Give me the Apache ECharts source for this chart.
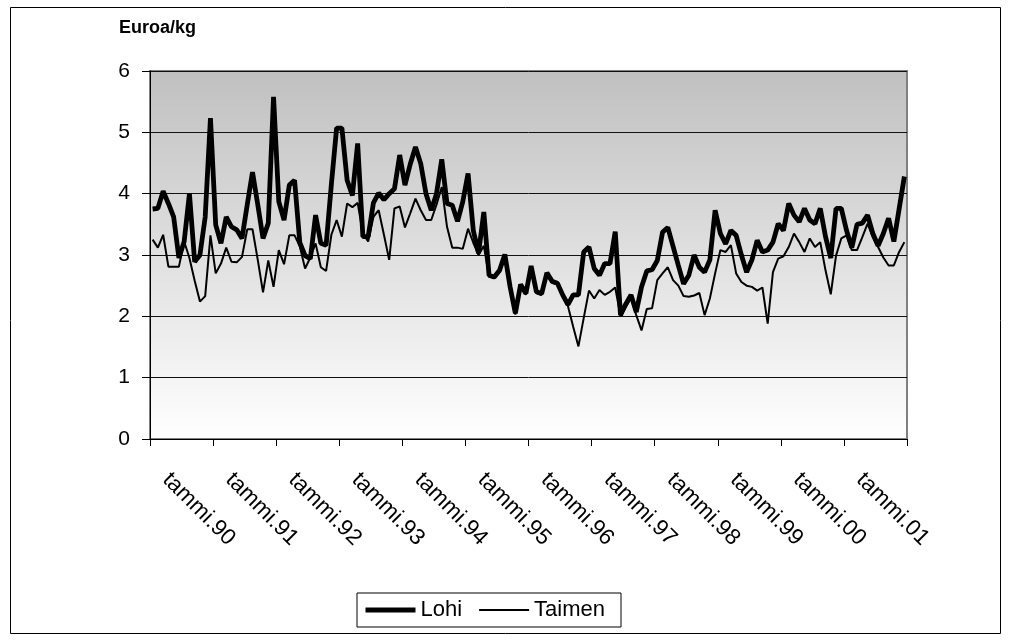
<!DOCTYPE html>
<html>
<head>
<meta charset="utf-8">
<script src="https://cdn.jsdelivr.net/npm/echarts@6/dist/echarts.min.js"></script>
<style>
  html, body { margin: 0; padding: 0; background: #fff; }
  #chart { width: 1012px; height: 641px; }
</style>
</head>
<body>
<div id="chart"></div>
<script>
// Monthly producer prices, euro per kilo, January 1990 – December 2001
const years = ['90', '91', '92', '93', '94', '95', '96', '97', '98', '99', '00', '01'];
const months = ['tammi', 'helmi', 'maalis', 'huhti', 'touko', 'kesä', 'heinä', 'elo', 'syys', 'loka', 'marras', 'joulu'];
const yTicks = [0, 1, 2, 3, 4, 5, 6];

const lohi = [
  3.75, 3.76, 4.04, 3.84, 3.62, 2.95, 3.22, 4.00, 2.89, 3.00, 3.62, 5.23,
  3.49, 3.19, 3.62, 3.46, 3.41, 3.27, 3.82, 4.35, 3.82, 3.27, 3.52, 5.58,
  3.87, 3.57, 4.14, 4.22, 3.20, 2.99, 2.94, 3.65, 3.19, 3.16, 4.15, 5.07,
  5.07, 4.22, 3.97, 4.82, 3.30, 3.30, 3.85, 4.01, 3.90, 4.00, 4.08, 4.63,
  4.14, 4.48, 4.76, 4.49, 4.00, 3.73, 4.00, 4.56, 3.84, 3.81, 3.55, 3.87,
  4.33, 3.40, 3.03, 3.70, 2.67, 2.64, 2.75, 3.01, 2.48, 2.05, 2.52, 2.37,
  2.82, 2.40, 2.37, 2.71, 2.57, 2.54, 2.35, 2.19, 2.35, 2.35, 3.05, 3.13,
  2.78, 2.67, 2.86, 2.86, 3.38, 2.02, 2.20, 2.35, 2.07, 2.48, 2.74, 2.76,
  2.91, 3.37, 3.45, 3.14, 2.83, 2.53, 2.67, 3.00, 2.80, 2.72, 2.92, 3.73,
  3.35, 3.18, 3.40, 3.32, 3.00, 2.72, 2.92, 3.24, 3.05, 3.08, 3.21, 3.51,
  3.40, 3.84, 3.65, 3.54, 3.76, 3.57, 3.51, 3.76, 3.30, 2.95, 3.76, 3.76,
  3.40, 3.12, 3.50, 3.52, 3.65, 3.35, 3.15, 3.35, 3.60, 3.22, 3.75, 4.28
];

const taimen = [
  3.25, 3.12, 3.33, 2.81, 2.81, 2.81, 3.22, 2.95, 2.58, 2.24, 2.33, 3.32,
  2.70, 2.86, 3.12, 2.89, 2.88, 2.97, 3.42, 3.42, 2.92, 2.39, 2.91, 2.48,
  3.08, 2.85, 3.32, 3.32, 3.14, 2.78, 2.96, 3.19, 2.80, 2.74, 3.33, 3.57,
  3.30, 3.84, 3.78, 3.85, 3.35, 3.22, 3.62, 3.73, 3.33, 2.92, 3.76, 3.79,
  3.45, 3.68, 3.92, 3.73, 3.57, 3.57, 3.82, 4.11, 3.46, 3.12, 3.12, 3.10,
  3.43, 3.20, 3.00, 3.15, 2.65, 2.62, 2.72, 2.95, 2.45, 2.03, 2.50, 2.35,
  2.80, 2.38, 2.35, 2.68, 2.55, 2.52, 2.33, 2.17, 1.83, 1.51, 1.97, 2.42,
  2.29, 2.43, 2.35, 2.40, 2.47, 2.00, 2.15, 2.30, 2.02, 1.77, 2.12, 2.13,
  2.59, 2.70, 2.80, 2.59, 2.50, 2.33, 2.32, 2.34, 2.38, 2.02, 2.29, 2.70,
  3.08, 3.05, 3.16, 2.70, 2.56, 2.50, 2.48, 2.42, 2.47, 1.88, 2.72, 2.94,
  2.98, 3.13, 3.35, 3.21, 3.05, 3.27, 3.13, 3.21, 2.75, 2.36, 2.99, 3.27,
  3.32, 3.08, 3.08, 3.29, 3.51, 3.29, 3.13, 2.96, 2.83, 2.83, 3.05, 3.21
];

// month labels such as "tammi.90"
const categories = [];
years.forEach(y => months.forEach(m => categories.push(m + '.' + y)));

const FONT = 'Liberation Sans, Arial, sans-serif';

const chart = echarts.init(document.getElementById('chart'), null, { renderer: 'canvas' });

// legend keys are plain lines: hide the marker drawn in the middle of each key
const noMarker = { opacity: 0, borderWidth: 0 };

chart.setOption({
  backgroundColor: '#ffffff',
  animation: false,
  textStyle: { fontFamily: FONT, color: '#000' },
  title: {
    text: 'Euroa/kg',
    left: 119,
    top: 19,
    padding: 0,
    textStyle: { fontFamily: FONT, fontSize: 18, fontWeight: 'bold', color: '#000' }
  },
  graphic: [{
    type: 'rect',
    silent: true,
    shape: { x: 10.5, y: 7.5, width: 990, height: 626 },
    style: { fill: 'none', stroke: '#000', lineWidth: 1 }
  }],
  grid: {
    left: 150, top: 71, width: 757, height: 368,
    show: true,
    borderColor: '#808080',
    borderWidth: 2,
    backgroundColor: {
      type: 'linear', x: 0, y: 0, x2: 0, y2: 1,
      colorStops: [
        { offset: 0, color: '#c0c0c0' },
        { offset: 1, color: '#ffffff' }
      ]
    }
  },
  legend: {
    left: 357, top: 593,
    orient: 'horizontal',
    padding: [6, 16, 6, 6],
    borderColor: '#000',
    borderWidth: 1,
    backgroundColor: '#fff',
    itemWidth: 50,
    itemHeight: 22,
    itemGap: 16,
    textStyle: { fontFamily: FONT, fontSize: 22, color: '#000', padding: [2, 0, 0, 0] },
    data: [
      { name: 'Lohi', lineStyle: { width: 5, color: '#000' }, itemStyle: noMarker },
      { name: 'Taimen', lineStyle: { width: 2, color: '#000' }, itemStyle: noMarker }
    ]
  },
  xAxis: {
    type: 'category',
    data: categories,
    boundaryGap: true,
    axisLine: { show: true, lineStyle: { color: '#000', width: 1 } },
    axisTick: { show: true, interval: 11, length: 7, inside: false, lineStyle: { color: '#000' } },
    axisLabel: {
      interval: 11,
      rotate: -45,
      margin: 24,
      padding: [0, 0, 0, 19],
      fontFamily: FONT,
      fontSize: 22.5,
      color: '#000'
    },
    splitLine: { show: false }
  },
  yAxis: {
    type: 'value',
    min: yTicks[0],
    max: yTicks[yTicks.length - 1],
    interval: 1,
    axisLine: { show: true, lineStyle: { color: '#000', width: 1 } },
    axisTick: { show: true, length: 8, inside: false, lineStyle: { color: '#000' } },
    axisLabel: { margin: 20, fontFamily: FONT, fontSize: 21, color: '#000' },
    splitLine: { show: true, lineStyle: { color: '#111', width: 1 } }
  },
  series: [
    {
      name: 'Lohi',
      type: 'line',
      data: lohi,
      symbol: 'none',
      lineStyle: { color: '#000', width: 4.8 },
      itemStyle: { color: '#000' },
      z: 2
    },
    {
      name: 'Taimen',
      type: 'line',
      data: taimen,
      symbol: 'none',
      lineStyle: { color: '#000', width: 2 },
      itemStyle: { color: '#000' },
      z: 3
    }
  ]
});
</script>
</body>
</html>
